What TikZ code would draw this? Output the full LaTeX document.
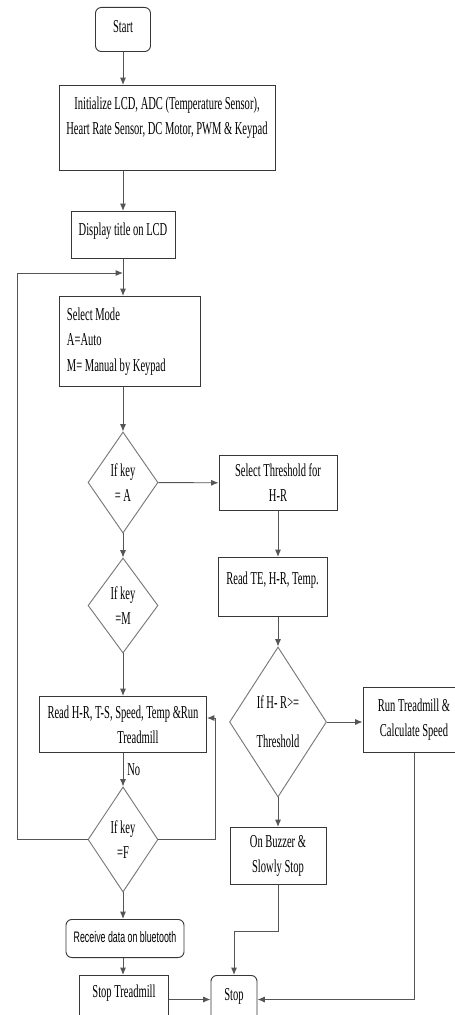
\documentclass[tikz,border=0pt]{standalone}
\usepackage{fontspec}
\setmainfont{Liberation Serif}[FakeStretch=0.58]
\newfontfamily\btfont{Liberation Sans}[FakeStretch=0.58]
\usetikzlibrary{shapes.geometric,arrows.meta,calc}
\definecolor{boxgray}{RGB}{55,55,55}
\definecolor{diagray}{RGB}{120,120,120}
\definecolor{linegray}{RGB}{85,85,85}
\tikzset{
    stepbox/.style={rectangle, draw=boxgray, line width=0.8pt, align=center, inner xsep=3pt, inner ysep=6pt, anchor=north},
    termbox/.style={stepbox, rounded corners=5pt},
    decision/.style={diamond, draw=diagray, line width=0.8pt, align=center, inner sep=0pt, aspect=0.7, minimum width=2.1cm},
    flow/.style={draw=linegray, line width=0.8pt, -{Latex[length=2.2mm,width=1.8mm]}},
}

\begin{document}
\begin{tikzpicture}[x=0.03cm, y=-0.03cm, font=\fontsize{15.5pt}{21.5pt}\selectfont]
    \useasboundingbox (0,0) rectangle (455,1015);
    \clip (0,0) rectangle (455,1015);
    % main column
    \node[termbox, text height=0.54cm, text depth=0.36cm, minimum width=1.65cm] (start) at (123,7) {Start};
    \node[stepbox, minimum width=6.48cm, minimum height=2.55cm] (init) at (167,85) {Initialize LCD, ADC (Temperature Sensor),\\Heart Rate Sensor, DC Motor, PWM \& Keypad\\\mbox{}};
    \node[stepbox, text height=0.51cm, text depth=0.48cm, minimum width=3.12cm] (disp) at (123,211) {Display title on LCD};
    \node[stepbox, minimum width=4.23cm, minimum height=2.7cm, text width=3.75cm, inner xsep=0.24cm, align=flush left] (mode) at (129.5,296) {Select Mode\\A=Auto\\M= Manual by Keypad};
    \node[decision, minimum height=3.03cm] (keyA) at (123,482.5) {If key\\= A};
    \node[decision, minimum height=2.85cm] (keyM) at (123,605.5) {If key\\=M};
    \node[stepbox, minimum width=5.01cm, minimum height=1.68cm] (readHR) at (123,696) {Read H-R, T-S, Speed, Temp \&Run\\\hspace*{0.9cm}Treadmill};
    \node[decision, minimum height=3.15cm] (keyF) at (123,839.5) {If key\\=F};
    \node[termbox, text height=0.48cm, text depth=0.24cm, minimum width=3.54cm, font=\btfont\fontsize{13pt}{16pt}\selectfont] (recv) at (125,919) {Receive data on bluetooth};
    \node[stepbox, text height=0.45cm, text depth=0.57cm, minimum width=2.67cm] (stopT) at (124,975) {Stop Treadmill};
    % auto branch
    \node[stepbox, minimum width=3.54cm, minimum height=1.65cm] (thr) at (278,455) {Select Threshold for\\H-R};
    \node[stepbox, text height=0.6cm, text depth=0.75cm, minimum width=3.27cm] (readTE) at (272.5,557) {Read TE, H-R, Temp.};
    \node[decision, minimum width=2.91cm, minimum height=4.5cm] (hrT) at (278,722) {If H- R>=\\[12pt]Threshold};
    \node[stepbox, minimum width=3.06cm, minimum height=1.95cm] (run) at (414,687) {Run Treadmill \&\\Calculate Speed};
    \node[stepbox, minimum width=2.88cm, minimum height=1.71cm] (buzz) at (278,827) {On Buzzer \&\\Slowly Stop};
    \node[termbox, text height=0.54cm, text depth=0.48cm, minimum width=1.38cm] (stop) at (234,975) {Stop};

    \coordinate (join) at (123,273);
    \coordinate (lrail) at (17,273);
    \coordinate (rrail) at (215,718);
    \coordinate (bend) at (278,931);

    \draw[flow] (start) -- (start |- init.north);
    \draw[flow] (disp |- init.south) -- (disp);
    \draw[flow] (disp) -- (disp |- mode.north);
    \draw[flow] (keyA |- mode.south) -- (keyA);
    \draw[flow] (keyA) -- (keyM);
    \draw[flow] (keyM) -- (readHR);
    \draw[flow] (readHR) -- node[right] (no) {No} (keyF);
    \draw[flow] (keyF) -- (recv.north -| keyF);
    \draw[flow] (recv.south -| keyF) -- (stopT.north -| keyF);
    \draw[flow] (keyF.west) -| (lrail) -- (join);
    \draw[flow] (keyF.east) -| (rrail) -- (rrail -| readHR.east);
    \draw[flow] (stopT) -- (stop);
    \draw[flow] (keyA) -- (thr);
    \draw[flow] (thr) -- (thr |- readTE.north);
    \draw[flow] (hrT |- readTE.south) -- (hrT);
    \draw[flow] (hrT) -- (run.west |- hrT);
    \draw[flow] (hrT) -- (buzz);
    \draw[flow] (run.south) |- (stop.east);
    \draw[flow] (buzz.south) -- (bend) -| (stop.north);
\end{tikzpicture}
\end{document}
